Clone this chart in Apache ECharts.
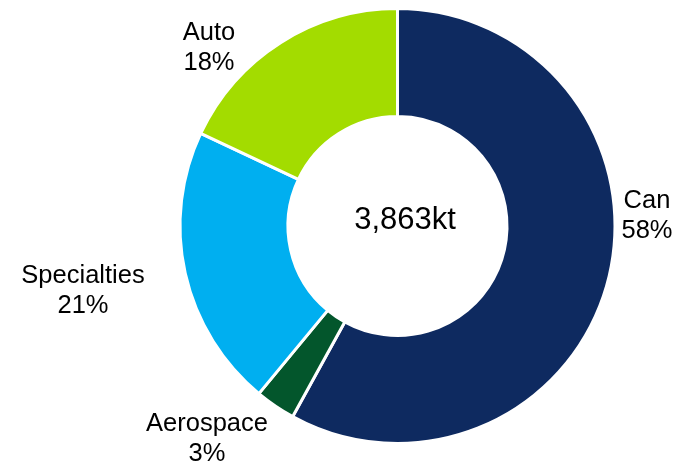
<!DOCTYPE html>
<html>
<head>
<meta charset="utf-8">
<script src="https://cdn.jsdelivr.net/npm/echarts@6/dist/echarts.min.js"></script>
<style>
html,body{margin:0;padding:0;background:#fff;}
#chart{width:681px;height:467px;}
</style>
</head>
<body>
<div id="chart"></div>
<script>
const categories = ['Can', 'Aerospace', 'Specialties', 'Auto'];
const shares = [58, 3, 21, 18];
const totalLabel = '3,863kt';
const colors = ['#0e2a60', '#03562c', '#00aff0', '#a3dc00'];
const labelCenters = [[647, 216], [207, 439], [83, 291], [209, 48]];

const chart = echarts.init(document.getElementById('chart'), null, {renderer: 'canvas'});
chart.setOption({
  animation: false,
  graphic: [{
    type: 'text',
    style: {
      text: totalLabel,
      x: 405, y: 220,
      align: 'center', verticalAlign: 'middle',
      font: '31px "Liberation Sans", Arial, sans-serif',
      fill: '#000'
    }
  }],
  series: [{
    type: 'pie',
    center: [397.5, 226],
    radius: [109.5, 217.5],
    startAngle: 90,
    clockwise: true,
    avoidLabelOverlap: false,
    itemStyle: {borderColor: '#fff', borderWidth: 3},
    label: {
      show: true,
      position: 'outside',
      formatter: p => p.name + '\n' + p.value + '%',
      fontFamily: '"Liberation Sans", Arial, sans-serif',
      fontSize: 25.5,
      lineHeight: 30,
      color: '#000',
      align: 'center'
    },
    labelLine: {show: false},
    labelLayout: function (params) {
      const c = labelCenters[params.dataIndex];
      return {x: c[0], y: c[1], align: 'center', verticalAlign: 'middle'};
    },
    emphasis: {disabled: true},
    data: categories.map((n, i) => ({name: n, value: shares[i], itemStyle: {color: colors[i]}}))
  }]
});
</script>
</body>
</html>
